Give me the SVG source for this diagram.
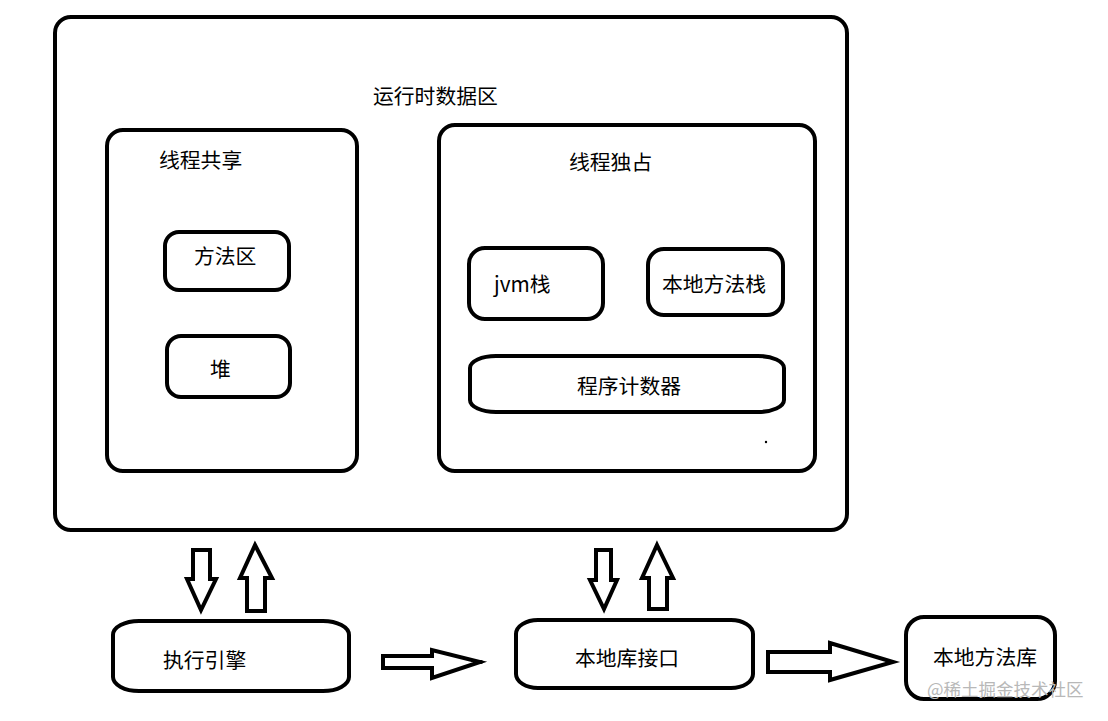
<svg xmlns="http://www.w3.org/2000/svg" width="1108" height="721" viewBox="0 0 1108 721">
<style>
.b{fill:none;stroke:#000;stroke-width:4}
.a{fill:#fff;stroke:#000;stroke-width:4;stroke-linejoin:miter}
.t{font-family:"Noto Sans CJK SC","Noto Sans",sans-serif;font-size:20.8px;fill:#000}
.w{font-family:"Noto Sans CJK SC","Noto Sans",sans-serif;font-size:17.5px;fill:#b8b8b8}
</style>
<rect width="1108" height="721" fill="#fff"/>
<g id="runtime-data-area">
<rect class="b" x="55" y="17" width="792" height="513" rx="16"/>
<text class="t" x="373" y="104">运行时数据区</text>
</g>
<g id="thread-shared">
<rect class="b" x="107" y="130" width="250" height="341" rx="16"/>
<text class="t" x="159" y="168">线程共享</text>
</g>
<g id="method-area">
<rect class="b" x="165" y="232" width="124" height="58" rx="14"/>
<text class="t" x="194" y="264">方法区</text>
</g>
<g id="heap">
<rect class="b" x="167" y="336" width="123" height="61" rx="14"/>
<text class="t" x="210" y="377">堆</text>
</g>
<g id="thread-private">
<rect class="b" x="439" y="125" width="376" height="346" rx="16"/>
<text class="t" x="569" y="170">线程独占</text>
<circle cx="766" cy="442" r="1.2" fill="#000"/>
</g>
<g id="jvm-stack">
<rect class="b" x="469" y="248" width="134" height="71" rx="16"/>
<text class="t" x="494" y="292">jvm栈</text>
</g>
<g id="native-method-stack">
<rect class="b" x="648" y="249" width="135" height="66" rx="16"/>
<text class="t" x="662" y="292">本地方法栈</text>
</g>
<g id="program-counter">
<rect class="b" x="470" y="356" width="314" height="56" rx="26" ry="12"/>
<text class="t" x="577" y="394">程序计数器</text>
</g>
<g id="execution-engine">
<rect class="b" x="113" y="621" width="236" height="70" rx="26" ry="14"/>
<text class="t" x="163" y="668">执行引擎</text>
</g>
<g id="native-interface">
<rect class="b" x="516" y="620" width="237" height="68" rx="22" ry="14"/>
<text class="t" x="575" y="666">本地库接口</text>
</g>
<g id="native-library">
<rect class="b" x="906" y="617" width="149" height="82" rx="18"/>
<text class="t" x="933" y="665">本地方法库</text>
</g>
<g id="connectors">
<polygon class="a" points="193,550 210,550 210,579 216,579 201,610 187,579 193,579"/>
<polygon class="a" points="255,545 272,578 265,578 265,611 247,611 247,578 240,578"/>
<polygon class="a" points="596,550 611,550 611,580 617,580 604,609 590,580 596,580"/>
<polygon class="a" points="657,545 673,578 667,578 667,609 649,609 649,578 642,578"/>
<polygon class="a" points="383,656 432,656 432,650 480,662 432,678 432,668 383,668"/>
<circle cx="481" cy="662" r="2" fill="#000"/>
<polygon class="a" points="768,652 830,652 830,643 893,662 830,680 830,672 768,672"/>
</g>
<text class="w" x="927" y="696">@稀土掘金技术社区</text>
</svg>
